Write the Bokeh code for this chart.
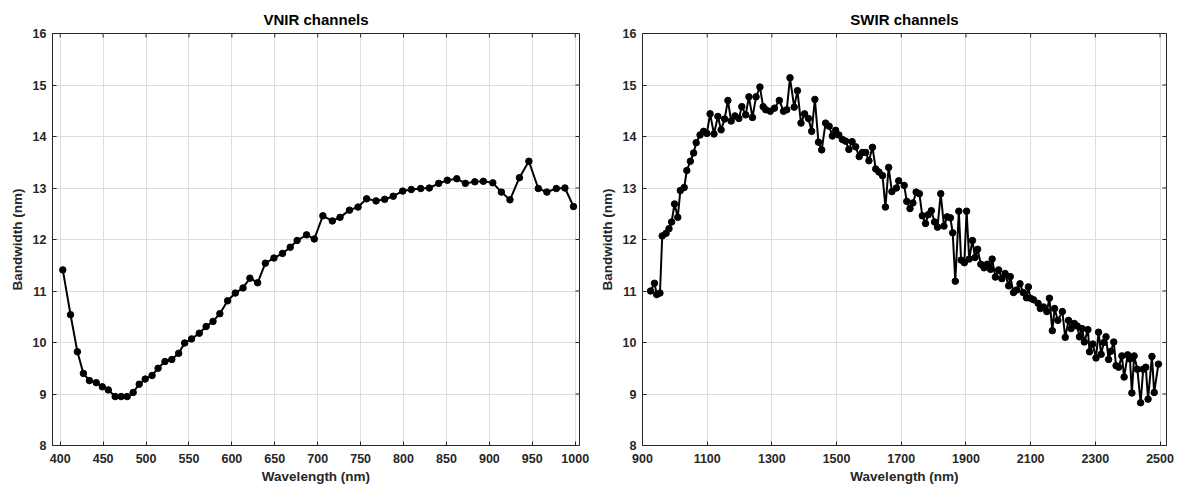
from bokeh.plotting import figure
from bokeh.layouts import row
from bokeh.models import Range1d, FixedTicker
from bokeh.embed import file_html
from bokeh.resources import INLINE

# ---------------- data ----------------
vnir_wl = [403, 412, 420, 427, 434, 442, 449, 456, 464, 471, 478, 485, 492, 499,
           507, 514, 522, 530, 538, 545, 553, 562, 570, 578, 586, 595, 604, 613,
           621, 630, 639, 649, 659, 668, 676, 687, 696, 706, 717, 726, 737, 747,
           757, 768, 778, 788, 799, 809, 820, 830, 841, 851, 862, 872, 883, 893,
           904, 914, 924, 935, 946, 957, 967, 978, 988, 998]
vnir_bw = [11.41, 10.54, 9.82, 9.40, 9.26, 9.22, 9.14, 9.08, 8.95, 8.95, 8.95, 9.03,
           9.19, 9.29, 9.36, 9.50, 9.63, 9.67, 9.79, 9.99, 10.07, 10.18, 10.31, 10.41,
           10.56, 10.81, 10.96, 11.06, 11.25, 11.16, 11.54, 11.64, 11.73, 11.85, 11.98,
           12.09, 12.01, 12.46, 12.36, 12.43, 12.57, 12.63, 12.79, 12.75, 12.78, 12.84,
           12.94, 12.97, 12.99, 13.00, 13.09, 13.15, 13.18, 13.09, 13.12, 13.13, 13.10,
           12.92, 12.77, 13.20, 13.52, 12.99, 12.92, 12.99, 13.00, 12.64]

swir_wl = [925, 937, 944, 954, 961, 973, 982, 990, 999, 1009, 1017, 1029, 1037, 1048,
           1058, 1066, 1078, 1089, 1099, 1109, 1121, 1133, 1143, 1154, 1164, 1174,
           1186, 1198, 1207, 1219, 1229, 1240, 1251, 1263, 1273, 1281, 1295, 1308,
           1323, 1336, 1346, 1356, 1369, 1379, 1390, 1401, 1413, 1423, 1433, 1444,
           1454, 1466, 1477, 1487, 1497, 1507, 1518, 1528, 1538, 1548, 1559, 1570,
           1580, 1590, 1600, 1611, 1621, 1631, 1642, 1651, 1661, 1671, 1685, 1692,
           1709, 1717, 1727, 1736, 1746, 1756, 1765, 1775, 1783, 1793, 1803, 1812,
           1822, 1832, 1842, 1852, 1859, 1867, 1878, 1885, 1895, 1902, 1910, 1920,
           1928, 1936, 1946, 1956, 1966, 1976, 1981, 1991, 2001, 2011, 2021, 2032,
           2037, 2047, 2057, 2067, 2077, 2087, 2093, 2099, 2109, 2123, 2130, 2140,
           2150, 2158, 2167, 2174, 2184, 2198, 2207, 2217, 2225, 2235, 2244, 2251,
           2259, 2266, 2277, 2282, 2292, 2302, 2310, 2318, 2326, 2333, 2341, 2348,
           2357, 2364, 2372, 2382, 2389, 2400, 2407, 2413, 2420, 2430, 2440, 2448,
           2456, 2463, 2475, 2482, 2495]
swir_bw = [11.00, 11.15, 10.93, 10.96, 12.07, 12.12, 12.21, 12.34, 12.69, 12.43, 12.95,
           13.01, 13.34, 13.52, 13.68, 13.88, 14.03, 14.10, 14.06, 14.44, 14.05, 14.39,
           14.13, 14.34, 14.70, 14.30, 14.40, 14.35, 14.58, 14.42, 14.77, 14.37, 14.77,
           14.96, 14.58, 14.52, 14.49, 14.55, 14.70, 14.49, 14.52, 15.14, 14.57, 14.89,
           14.26, 14.44, 14.35, 14.10, 14.72, 13.89, 13.74, 14.26, 14.20, 14.01, 14.12,
           14.03, 13.94, 13.91, 13.75, 13.90, 13.80, 13.61, 13.69, 13.69, 13.53, 13.79,
           13.37, 13.31, 13.24, 12.63, 13.40, 12.93, 13.00, 13.14, 13.05, 12.74, 12.60,
           12.71, 12.92, 12.89, 12.46, 12.31, 12.48, 12.56, 12.34, 12.24, 12.89, 12.26,
           12.44, 12.42, 12.13, 11.19, 12.55, 11.60, 11.55, 12.55, 11.62, 11.98, 11.65,
           11.81, 11.52, 11.45, 11.52, 11.42, 11.62, 11.27, 11.41, 11.24, 11.34, 11.10,
           11.28, 10.97, 11.02, 11.14, 10.97, 10.87, 11.08, 10.86, 10.83, 10.76, 10.66,
           10.69, 10.60, 10.86, 10.23, 10.66, 10.43, 10.60, 10.10, 10.43, 10.27, 10.37,
           10.32, 10.11, 10.27, 10.01, 10.25, 9.82, 9.97, 9.70, 10.20, 9.77, 10.00,
           10.11, 9.67, 9.83, 10.01, 9.55, 9.52, 9.74, 9.33, 9.76, 9.68, 9.02, 9.74,
           9.48, 8.83, 9.48, 9.52, 8.90, 9.73, 9.03, 9.58]

vnir_ticks = [400, 450, 500, 550, 600, 650, 700, 750, 800, 850, 900, 950, 1000]
swir_ticks = [900, 1100, 1300, 1500, 1700, 1900, 2100, 2300, 2500]
y_ticks = [8, 9, 10, 11, 12, 13, 14, 15, 16]

FONT = "Liberation Sans"
AX = "#262626"
FRAME_H = 414
TICK_PX = 4


def make(title, xs, ys, xr, xticks, width, bl, br, frame_w):
    p = figure(width=width, height=486, x_range=Range1d(*xr), y_range=Range1d(8, 16),
               output_backend="svg", toolbar_location=None,
               min_border_left=bl, min_border_right=br, min_border_top=33, min_border_bottom=39,
               title=title)
    p.title.align = "center"
    p.title.text_font = FONT
    p.title.text_font_size = "15px"
    p.title.text_font_style = "bold"
    p.title.text_color = "black"
    p.title.offset = 0
    p.title.standoff = 11
    p.background_fill_color = "white"
    p.border_fill_color = "white"
    p.outline_line_color = AX
    p.outline_line_width = 1

    p.xaxis.ticker = FixedTicker(ticks=xticks)
    p.yaxis.ticker = FixedTicker(ticks=y_ticks)
    for ax in (p.xaxis[0], p.yaxis[0]):
        ax.major_tick_in = TICK_PX
        ax.major_tick_out = 0
        ax.minor_tick_in = 0
        ax.minor_tick_out = 0
        ax.axis_line_color = AX
        ax.major_tick_line_color = AX
        ax.major_label_text_font = FONT
        ax.major_label_text_font_size = "12.5px"
        ax.major_label_text_font_style = "bold"
        ax.major_label_text_color = AX
        ax.axis_label_text_font = FONT
        ax.axis_label_text_font_size = "13.5px"
        ax.axis_label_text_font_style = "bold"
        ax.axis_label_text_color = AX
    p.xaxis.major_label_standoff = 8
    p.xaxis.axis_label_standoff = 3
    p.yaxis.major_label_standoff = 6
    p.yaxis.axis_label_standoff = 5
    p.xaxis.axis_label = "Wavelength (nm)"
    p.yaxis.axis_label = "Bandwidth (nm)"

    p.xgrid.ticker = FixedTicker(ticks=xticks)
    p.ygrid.ticker = FixedTicker(ticks=y_ticks)
    p.grid.grid_line_color = "#dedede"
    p.grid.grid_line_width = 1

    # inward ticks on the top and right edges of the box (MATLAB style)
    dy = TICK_PX * (16 - 8) / FRAME_H
    dx = TICK_PX * (xr[1] - xr[0]) / frame_w
    p.segment(x0=xticks, y0=[16] * len(xticks), x1=xticks, y1=[16 - dy] * len(xticks),
              line_color=AX, line_width=1)
    p.segment(x0=[xr[1]] * len(y_ticks), y0=y_ticks, x1=[xr[1] - dx] * len(y_ticks), y1=y_ticks,
              line_color=AX, line_width=1)

    p.line(xs, ys, line_color="black", line_width=2)
    p.scatter(xs, ys, size=6.5, fill_color="black", line_color="black")
    return p


p1 = make("VNIR channels", vnir_wl, vnir_bw, (391, 1005), vnir_ticks, 589, 52, 10, 527)
p2 = make("SWIR channels", swir_wl, swir_bw, (900, 2520), swir_ticks, 585, 53, 8, 524)

layout = row(p1, p2)
open("out.html", "w").write(file_html(layout, INLINE))
